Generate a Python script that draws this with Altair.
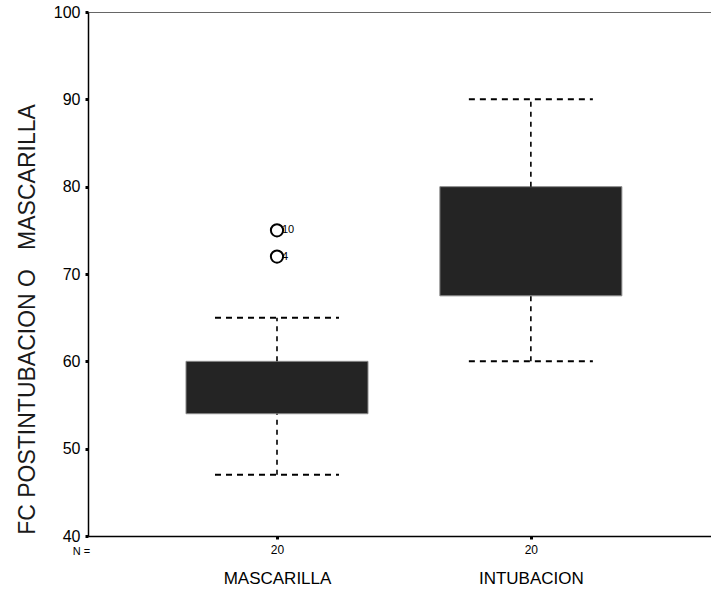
import altair as alt
import pandas as pd

# ---- data ----
categories = ["MASCARILLA", "INTUBACION"]
positions = [1, 2]
n_counts = [20, 20]
q1 = [54.0, 67.5]
q3 = [60.0, 80.0]
whisker_low = [47.0, 60.0]
whisker_high = [65.0, 90.0]
outlier_group = ["MASCARILLA", "MASCARILLA"]
outlier_values = [75.0, 72.0]
outlier_ids = ["10", "4"]
y_ticks = [40, 50, 60, 70, 80, 90, 100]

box_df = pd.DataFrame({
    "cat": categories, "pos": positions, "n": n_counts,
    "q1": q1, "q3": q3, "lo": whisker_low, "hi": whisker_high,
})
pos_of = dict(zip(categories, positions))
out_df = pd.DataFrame({
    "cat": outlier_group,
    "pos": [pos_of[c] for c in outlier_group],
    "value": outlier_values,
    "id": outlier_ids,
})


def expr_from(labels):
    e = "''"
    for p, lab in zip(positions, labels):
        e = f"datum.value == {p} ? '{lab}' : ({e})"
    return e


FONT = "Liberation Sans"
xscale = alt.Scale(domain=[0.2752, 2.6899], nice=False, zero=False)
yscale = alt.Scale(domain=[40, 100], nice=False, zero=False)

y_axis = alt.Axis(
    values=y_ticks, grid=False, tickSize=3, tickWidth=3, tickColor="black",
    domainColor="black", domainWidth=1.5, labelFontSize=16, labelColor="black",
    labelPadding=5, labelFont=FONT,
    title="FC POSTINTUBACION O\u00a0\u00a0\u00a0MASCARILLA",
    titleFontSize=23, titleFontWeight="normal", titleFont=FONT, titleColor="#1a1a1a",
    titleAngle=-90, titleX=-61, titleY=307, titleAlign="center", titleBaseline="middle",
)

x_count_axis = alt.Axis(
    orient="bottom", values=positions, labelExpr=expr_from([str(n) for n in n_counts]),
    grid=False, tickSize=3, tickWidth=3, tickColor="black",
    domainColor="black", domainWidth=1.5, labelFontSize=12, labelColor="black",
    labelPadding=5, labelFont=FONT,
    title="N =", titleFontSize=11, titleFontWeight="normal", titleFont=FONT,
    titleX=-7, titleY=15, titleAlign="center", titleBaseline="middle", titleColor="black",
)

x_cat_axis = alt.Axis(
    orient="bottom", values=positions, labelExpr=expr_from(categories),
    grid=False, domain=False, ticks=False, labelFontSize=17, labelColor="black",
    labelPadding=2, labelFont=FONT, offset=32, title=None,
)


def Y(field):
    return alt.Y(field, scale=yscale, axis=y_axis)


base = alt.Chart(box_df)

boxes = base.mark_bar(size=182, color="#242424", stroke="#8a8a8a", strokeWidth=1).encode(
    x=alt.X("pos:Q", scale=xscale, axis=x_count_axis),
    y=Y("q1:Q"),
    y2="q3:Q",
)

upper_whisker = base.mark_rule(color="black", strokeWidth=1.6, strokeDash=[5, 5]).encode(
    x=alt.X("pos:Q", scale=xscale, axis=x_cat_axis),
    y=Y("q3:Q"),
    y2="hi:Q",
)

lower_whisker = base.mark_rule(color="black", strokeWidth=1.6, strokeDash=[5, 5]).encode(
    x=alt.X("pos:Q", scale=xscale, axis=None),
    y=Y("lo:Q"),
    y2="q1:Q",
)

upper_cap = base.mark_rule(color="black", strokeWidth=2, strokeDash=[6, 5],
                           xOffset=-62, x2Offset=62).encode(
    x=alt.X("pos:Q", scale=xscale, axis=None),
    x2="pos:Q",
    y=Y("hi:Q"),
)

lower_cap = base.mark_rule(color="black", strokeWidth=2, strokeDash=[6, 5],
                           xOffset=-62, x2Offset=62).encode(
    x=alt.X("pos:Q", scale=xscale, axis=None),
    x2="pos:Q",
    y=Y("lo:Q"),
)

outliers = alt.Chart(out_df).mark_point(
    shape="circle", filled=False, size=150, strokeWidth=2, color="black", opacity=1
).encode(
    x=alt.X("pos:Q", scale=xscale, axis=None),
    y=Y("value:Q"),
)

outlier_text = alt.Chart(out_df).mark_text(
    align="left", baseline="middle", dx=5, fontSize=11, font=FONT, color="black"
).encode(
    x=alt.X("pos:Q", scale=xscale, axis=None),
    y=Y("value:Q"),
    text="id:N",
)

chart = alt.layer(
    boxes, upper_whisker, lower_whisker, upper_cap, lower_cap, outliers, outlier_text
).resolve_axis(x="independent").properties(
    width=623, height=524,
    padding={"left": 88, "top": 12, "right": 0, "bottom": 55},
    autosize=alt.AutoSizeParams(type="none"),
    background="white",
).configure_view(stroke="#666666", strokeWidth=1)

chart.save("out.html", embed_options={"renderer": "svg", "actions": False})
